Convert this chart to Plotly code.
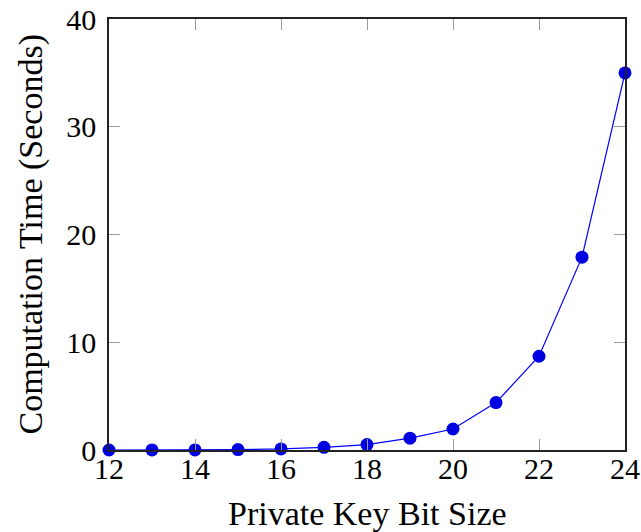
import plotly.graph_objects as go

bit_sizes = [12, 13, 14, 15, 16, 17, 18, 19, 20, 21, 22, 23, 24]
times = [0.002, 0.005, 0.01, 0.04, 0.1, 0.25, 0.5, 1.1, 1.95, 4.4, 8.7, 17.9, 35.0]

x_ticks = [12, 14, 16, 18, 20, 22, 24]
y_ticks = [0, 10, 20, 30, 40]

x_title = "Private Key Bit Size"
y_title = "Computation Time (Seconds)"

FONT = "Liberation Serif"

fig = go.Figure()
fig.add_trace(go.Scatter(
    x=bit_sizes, y=times, mode="lines+markers",
    line=dict(color="#0000ff", width=1.2),
    marker=dict(color="#0000e0", size=13),
    cliponaxis=False, showlegend=False,
))

axis_common = dict(
    showline=True, linecolor="#222222", linewidth=1.5, mirror="allticks",
    ticks="inside", ticklen=11, tickcolor="#9a9a9a", tickwidth=1.2,
    showgrid=False, zeroline=False, automargin=False,
    tickfont=dict(family=FONT, size=30, color="black"),
)

fig.update_layout(
    width=641, height=532,
    margin=dict(l=109, r=16, t=19, b=82),
    paper_bgcolor="white", plot_bgcolor="white",
    xaxis=dict(range=[12, 24], tickvals=x_ticks, ticklabelstandoff=-9, **axis_common),
    yaxis=dict(range=[0, 40], tickvals=y_ticks, ticklabelstandoff=5, **axis_common),
    annotations=[
        dict(text=x_title, xref="paper", yref="paper", x=0.5, y=0, yshift=-63,
             xanchor="center", yanchor="middle", showarrow=False,
             font=dict(family=FONT, size=34, color="black")),
        dict(text=y_title, xref="paper", yref="paper", x=0, y=0.5, xshift=-79,
             xanchor="center", yanchor="middle", showarrow=False, textangle=-90,
             font=dict(family=FONT, size=34, color="black")),
    ],
)

fig.write_html("out.html", config={"displayModeBar": False},
               post_script="document.body.style.margin='0';document.body.style.padding='0';")
